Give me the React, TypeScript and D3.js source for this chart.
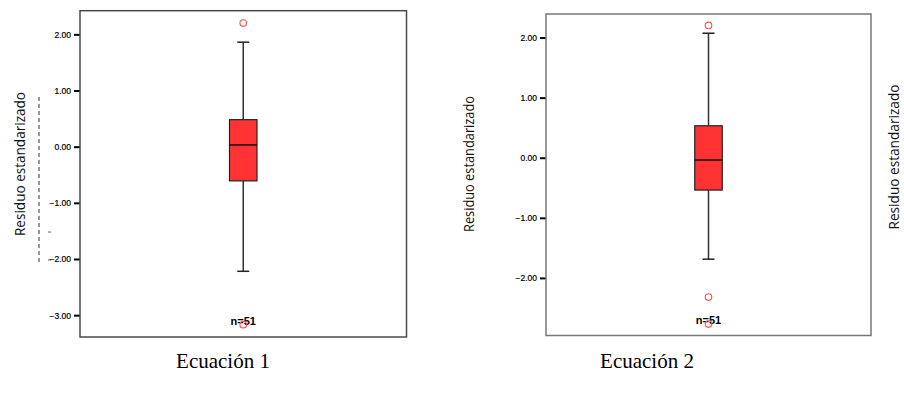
import React from "react";
import * as d3 from "d3";

const equations = ["Ecuación 1", "Ecuación 2"];
const q1Values = [-0.6, -0.53];
const medianValues = [0.04, -0.03];
const q3Values = [0.49, 0.54];
const whiskerLow = [-2.21, -1.68];
const whiskerHigh = [1.87, 2.08];
const outlierValues = [
  [2.21, -3.16],
  [2.21, -2.31, -2.76],
];
const yDomains = [
  [-3.38, 2.43],
  [-2.95, 2.4],
];
const yTickValues = [
  [2, 1, 0, -1, -2, -3],
  [2, 1, 0, -1, -2],
];
const sampleSizes = [51, 51];
const yAxisTitle = "Residuo estandarizado";

const frames = [
  { left: 80, right: 406.5, top: 10.7, bottom: 337, titleX: 19, titleY: 164, titleLen: 144, captionX: 223, frameColor: "#4a4a4a" },
  { left: 546, right: 871, top: 14, bottom: 335.5, titleX: 468, titleY: 164, titleLen: 136, captionX: 647, frameColor: "#777" },
];

function AxisTitle({ x, y, len }: { x: number; y: number; len: number }) {
  return (
    <text
      transform={`translate(${x},${y}) rotate(-90)`}
      textAnchor="middle"
      dominantBaseline="central"
      fontFamily="'Open Sans', sans-serif"
      fontSize={15}
      textLength={len}
      lengthAdjust="spacingAndGlyphs"
      fill="#111"
    >
      {yAxisTitle}
    </text>
  );
}

function Panel({ i }: { i: number }) {
  const f = frames[i];
  const y = d3.scaleLinear().domain(yDomains[i]).range([f.bottom, f.top]);
  const x = d3.scalePoint().domain([equations[i]]).range([f.left, f.right]).padding(0.5);
  const cx = x(equations[i]) as number;
  const bw = 27.5;
  const cap = 12;
  const fmt = d3.format(".2f");
  return (
    <g>
      <AxisTitle x={f.titleX} y={f.titleY} len={f.titleLen} />
      {yTickValues[i].map((t) => (
        <g key={t}>
          <line x1={f.left - 6} x2={f.left} y1={y(t)} y2={y(t)} stroke="#000" strokeWidth={2} />
          <text
            x={f.left - 9}
            y={y(t)}
            textAnchor="end"
            dominantBaseline="central"
            fontFamily="Arial, 'Liberation Sans', sans-serif"
            fontSize={8.5}
            fill="#000"
            stroke="#000"
            strokeWidth={0.2}
          >
            {fmt(t)}
          </text>
        </g>
      ))}
      <line x1={cx} x2={cx} y1={y(whiskerHigh[i])} y2={y(q3Values[i])} stroke="#333" strokeWidth={1.5} />
      <line x1={cx} x2={cx} y1={y(q1Values[i])} y2={y(whiskerLow[i])} stroke="#333" strokeWidth={1.5} />
      <line x1={cx - cap / 2} x2={cx + cap / 2} y1={y(whiskerHigh[i])} y2={y(whiskerHigh[i])} stroke="#222" strokeWidth={1.5} />
      <line x1={cx - cap / 2} x2={cx + cap / 2} y1={y(whiskerLow[i])} y2={y(whiskerLow[i])} stroke="#222" strokeWidth={1.5} />
      <rect
        x={cx - bw / 2}
        width={bw}
        y={y(q3Values[i])}
        height={y(q1Values[i]) - y(q3Values[i])}
        fill="#ff3333"
        stroke="#222"
        strokeWidth={1.2}
      />
      <line x1={cx - bw / 2} x2={cx + bw / 2} y1={y(medianValues[i])} y2={y(medianValues[i])} stroke="#111" strokeWidth={1.5} />
      <text
        x={cx}
        y={f.bottom - 16}
        textAnchor="middle"
        dominantBaseline="central"
        fontFamily="Arial, 'Liberation Sans', sans-serif"
        fontWeight="bold"
        fontSize={11}
        fill="#000"
      >
        {`n=${sampleSizes[i]}`}
      </text>
      {outlierValues[i].map((v, k) => (
        <circle key={k} cx={cx} cy={y(v)} r={3.3} fill="none" stroke="#ff4d4d" strokeWidth={1.1} />
      ))}
      <rect
        x={f.left}
        y={f.top}
        width={f.right - f.left}
        height={f.bottom - f.top}
        fill="none"
        stroke={f.frameColor}
        strokeWidth={1.5}
      />
      <text
        x={f.captionX}
        y={368}
        textAnchor="middle"
        fontFamily="'Liberation Serif', 'Times New Roman', serif"
        fontSize={21}
        fill="#000"
      >
        {equations[i]}
      </text>
    </g>
  );
}

export default function App() {
  return (
    <svg
      width={904}
      height={400}
      style={{ position: "absolute", left: 0, top: 0, background: "#fff" }}
    >
      <rect width={904} height={400} fill="#fff" />
      <line x1={39} x2={39} y1={97} y2={262} stroke="#333" strokeWidth={1} strokeDasharray="4,3" />
      <line x1={48} x2={51} y1={232} y2={232} stroke="#666" strokeWidth={1} />
      <line x1={48} x2={51} y1={260} y2={260} stroke="#666" strokeWidth={1} />
      <Panel i={0} />
      <Panel i={1} />
      <AxisTitle x={893} y={157} len={145} />
    </svg>
  );
}
